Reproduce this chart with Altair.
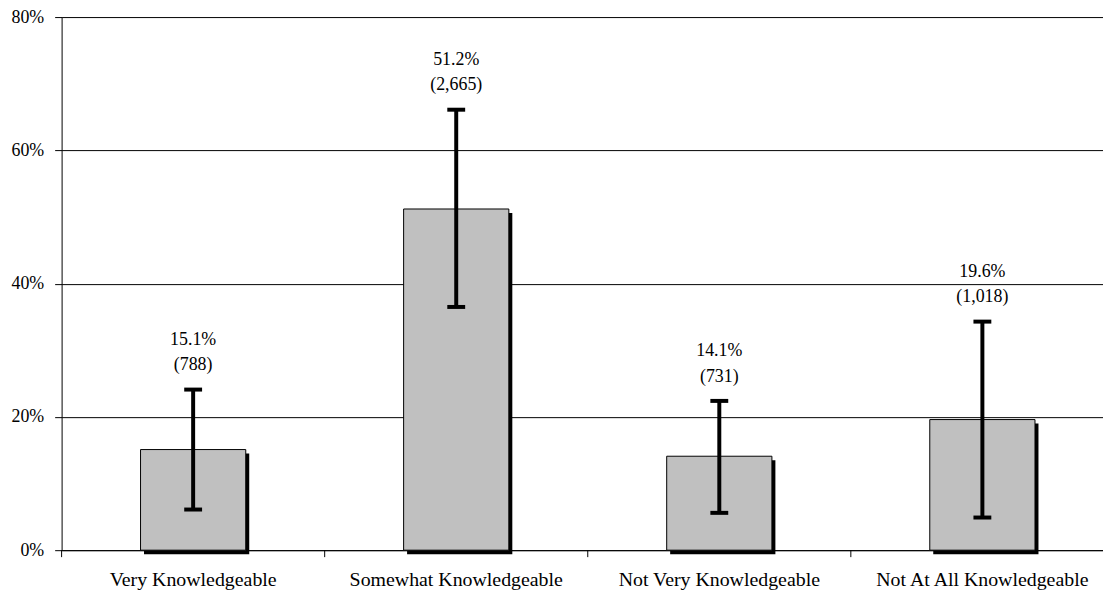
import altair as alt
import pandas as pd

categories = ["Very Knowledgeable", "Somewhat Knowledgeable",
              "Not Very Knowledgeable", "Not At All Knowledgeable"]
pct = [15.1, 51.2, 14.1, 19.6]
counts = ["788", "2,665", "731", "1,018"]
err_lo = [6.1, 36.5, 5.6, 4.9]
err_hi = [24.1, 66.1, 22.4, 34.3]
y_ticks = [0, 20, 40, 60, 80]

df = pd.DataFrame({
    "cat": categories,
    "pct": pct,
    "lo": err_lo,
    "hi": err_hi,
    "pct_label": [f"{p}%" for p in pct],
    "count_label": [f"({c})" for c in counts],
})

FONT = "'Liberation Serif', 'Times New Roman', 'DejaVu Serif', serif"
W, H = 1041, 537
BAR = 106

xscale = alt.Scale(domain=categories, range=[0, 1060], paddingInner=0, paddingOuter=0)
yscale = alt.Scale(domain=[0, 80], nice=False)

x_enc = alt.X("cat:N", scale=xscale, sort=categories,
              axis=alt.Axis(title=None, ticks=False, labelAngle=0, labelFont=FONT,
                            labelFontSize=20, labelColor="black", labelPadding=20,
                            labelLimit=0, labelOverlap=False,
                            domainColor="black", domainWidth=1, grid=False))
y_enc = alt.Y("pct:Q", scale=yscale,
              axis=alt.Axis(title=None, values=y_ticks, labelExpr="datum.value + '%'",
                            tickSize=7, tickColor="black", tickWidth=1,
                            labelFont=FONT, labelFontSize=18, labelColor="black",
                            labelPadding=11, domainColor="black", domainWidth=1,
                            grid=True, gridColor="black", gridWidth=1, gridOpacity=1))

base = alt.Chart(df)

shadow = base.mark_bar(color="black", size=BAR, xOffset=3.5, yOffset=4).encode(x=x_enc, y=y_enc)
bars = base.mark_bar(color="#c0c0c0", stroke="black", strokeWidth=1, size=BAR).encode(x=x_enc, y=y_enc)

err = base.mark_rule(color="black", strokeWidth=4, opacity=1).encode(
    x=alt.X("cat:N", scale=xscale, sort=categories),
    y=alt.Y("lo:Q", scale=yscale), y2="hi:Q")
cap_lo = base.mark_tick(color="black", thickness=4, size=18, opacity=1).encode(
    x=alt.X("cat:N", scale=xscale, sort=categories), y=alt.Y("lo:Q", scale=yscale))
cap_hi = base.mark_tick(color="black", thickness=4, size=18, opacity=1).encode(
    x=alt.X("cat:N", scale=xscale, sort=categories), y=alt.Y("hi:Q", scale=yscale))

lbl_pct = base.mark_text(font=FONT, fontSize=18, color="black", baseline="alphabetic", dy=-45).encode(
    x=alt.X("cat:N", scale=xscale, sort=categories), y=alt.Y("hi:Q", scale=yscale), text="pct_label:N")
lbl_cnt = base.mark_text(font=FONT, fontSize=18, color="black", baseline="alphabetic", dy=-19.5).encode(
    x=alt.X("cat:N", scale=xscale, sort=categories), y=alt.Y("hi:Q", scale=yscale), text="count_label:N")

xticks = base.mark_rule(color="black", strokeWidth=1).encode(
    x=alt.X("cat:N", scale=xscale, sort=categories, bandPosition=0),
    y=alt.value(H), y2=alt.value(H + 7))

chart = alt.layer(shadow, bars, err, cap_lo, cap_hi, lbl_pct, lbl_cnt, xticks).properties(
    width=W, height=H,
    autosize=alt.AutoSizeParams(type="none"),
    padding={"left": 54, "top": 7, "right": 8, "bottom": 42},
).configure_view(stroke=None)

chart.save("out.html", embed_options={"renderer": "svg", "actions": False})
